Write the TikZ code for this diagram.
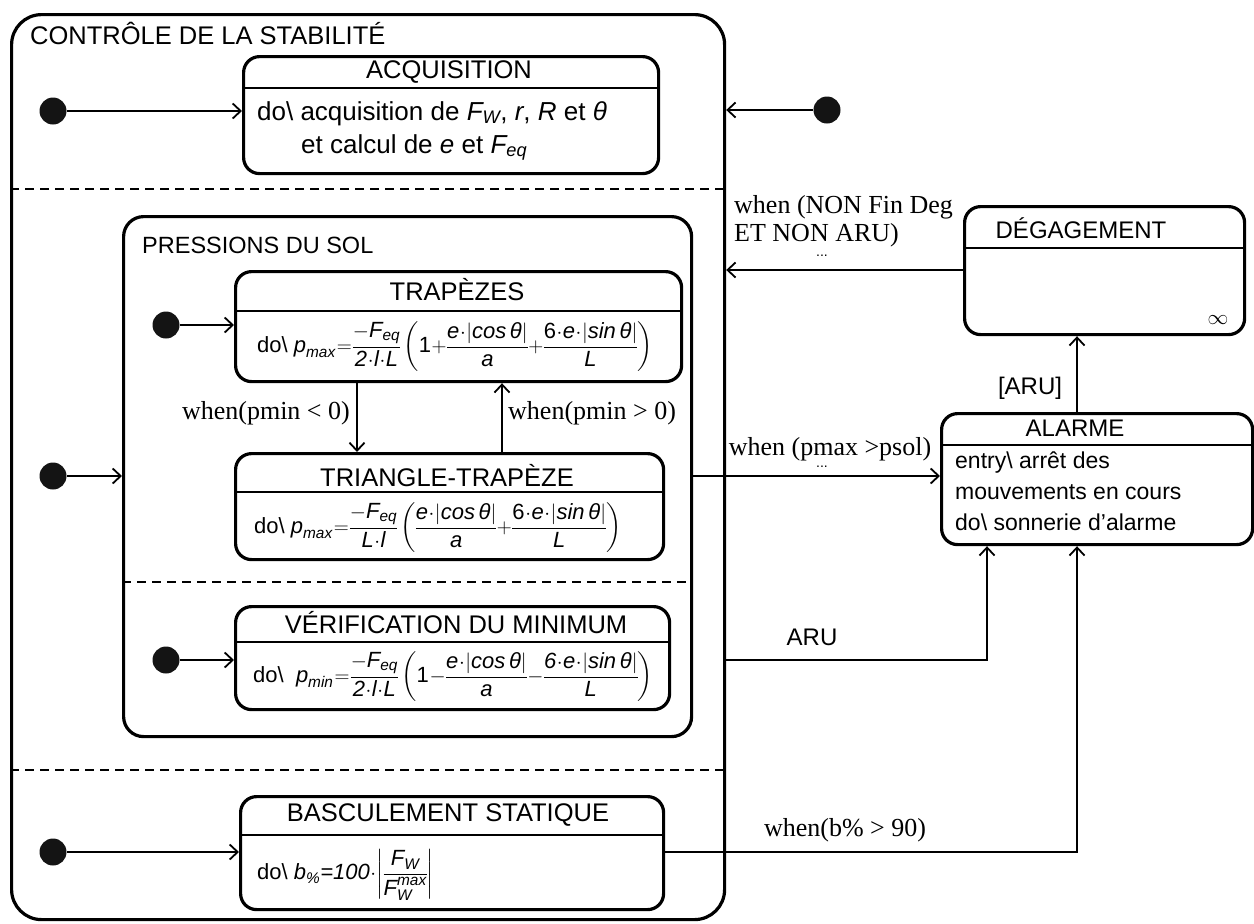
\documentclass[tikz,border=0pt]{standalone}
\usepackage{fontspec}
\usepackage{amsmath}
\setmainfont{Liberation Sans}
\newfontfamily\lblfont{Liberation Serif}
\usetikzlibrary{arrows.meta}
% italic and upright text-font pieces inside formulas
\newcommand{\tv}[1]{\text{\itshape #1}}
\newcommand{\tu}[1]{\text{#1}}
\newcommand{\bsl}{\textbackslash}
\begin{document}
\begin{tikzpicture}[x=1pt,y=-1pt,
  frame/.style={draw, line width=3.2pt, rounded corners=30pt, inner sep=0, anchor=north west},
  region/.style={draw, line width=3.2pt, rounded corners=20pt, inner sep=0, anchor=north west},
  stbox/.style={draw, line width=3.2pt, rounded corners=16pt, inner sep=0, anchor=north west},
  hline/.style={line width=2.6pt},
  hdr/.style={font=\fontsize{25.5}{28}\selectfont, inner sep=0},
  small hdr/.style={font=\fontsize{24}{28}\selectfont, inner sep=0},
  body/.style={font=\fontsize{23}{31}\selectfont, inner sep=0, align=left},
  formula/.style={font=\fontsize{22}{27}\selectfont, inner sep=0, anchor=west,
    execute at begin node={\thickmuskip=1mu\medmuskip=0.5mu\nulldelimiterspace=0pt}},
  lbl/.style={font=\lblfont\fontsize{26}{28}\selectfont, inner sep=0},
  dots/.style={font=\fontsize{14}{16}\selectfont, inner sep=0},
  conn/.style={line width=1.8pt, -{Straight Barb[length=8pt,width=15pt,line width=1.8pt]}},
  init/.style={circle, fill=black!92, minimum size=27pt, inner sep=0},
  sep/.style={line width=1.8pt, dash pattern=on 9pt off 6pt}]
\useasboundingbox (0,0) rectangle (1254,924);

% ---- outer composite state ----
\node[frame, minimum width=713pt, minimum height=905pt] (frame) at (10,13) {};
\node[hdr, anchor=west] (frameT) at (30,33) {CONTRÔLE DE LA STABILITÉ};

% region separators
\draw[sep] (frame.west |- 0,189) -- (frame.east |- 0,189);
\draw[sep] (frame.west |- 0,770) -- (frame.east |- 0,770);

% ---- ACQUISITION ----
\node[stbox, minimum width=415pt, minimum height=117pt] (acq) at (242,55) {};
\draw[hline] (acq.west |- 0,88) -- (acq.east |- 0,88);
\node[hdr] (acqT) at (449,72) {ACQUISITION};
\node[body, anchor=north west, font=\fontsize{26}{33}\selectfont] (acqB) at (257,101)
  {do\bsl\ acquisition de $\tv{F}_{\tv{W}}$, \textit{r}, \textit{R} et \textit{θ}\\
   \hspace*{44pt}et calcul de \textit{e} et $\tv{F}_{\tv{eq}}$};
\node[init] (i1) at (53,111) {};
\node[init] (i2) at (827,110) {};
\draw[conn] (i1) -- (i1 -| acq.west);
\draw[conn] (i2) -- (i2 -| frame.east);

% ---- PRESSIONS DU SOL ----
\node[region, minimum width=568pt, minimum height=520pt] (press) at (122,215) {};
\node[small hdr, anchor=west, font=\fontsize{23.5}{28}\selectfont] (pressT) at (142,245) {PRESSIONS DU SOL};
\draw[sep] (press.west |- 0,582) -- (press.east |- 0,582);

% TRAPEZES
\node[stbox, minimum width=446pt, minimum height=110pt] (trap) at (234,270) {};
\draw[hline] (trap.west |- 0,311) -- (trap.east |- 0,311);
\node[hdr] (trapT) at (457,290) {TRAPÈZES};
\node[formula] (trapB) at (257,347)
  {do\bsl\ $\displaystyle \tv{p}_{\tv{max}}=\frac{-\tv{F}_{\tv{eq}}}{\tv{2}\cdot\tv{l}\cdot\tv{L}}
   \left(\tu{1}+\frac{\tv{e}\cdot|\tv{cos\,θ}|}{\tv{a}}+\frac{\tu{6}\cdot\tv{e}\cdot|\tv{sin\,θ}|}{\tv{L}}\right)$};

% TRIANGLE-TRAPEZE
\node[stbox, minimum width=428pt, minimum height=106pt] (tri) at (234,452) {};
\draw[hline] (tri.west |- 0,492) -- (tri.east |- 0,492);
\node[hdr] (triT) at (447,476) {TRIANGLE-TRAPÈZE};
\node[formula] (triB) at (254,528)
  {do\bsl\ $\displaystyle \tv{p}_{\tv{max}}=\frac{-\tv{F}_{\tv{eq}}}{\tv{L}\cdot\tv{l}}
   \left(\frac{\tv{e}\cdot|\tv{cos\,θ}|}{\tv{a}}+\frac{\tu{6}\cdot\tv{e}\cdot|\tv{sin\,θ}|}{\tv{L}}\right)$};

% VERIFICATION DU MINIMUM
\node[stbox, minimum width=434pt, minimum height=103pt] (verif) at (234,605) {};
\draw[hline] (verif.west |- 0,642) -- (verif.east |- 0,642);
\node[hdr] (verifT) at (456,623) {VÉRIFICATION DU MINIMUM};
\node[formula] (verifB) at (253,677)
  {do\bsl\ \ $\displaystyle \tv{p}_{\tv{min}}=\frac{-\tv{F}_{\tv{eq}}}{\tv{2}\cdot\tv{l}\cdot\tv{L}}
   \left(\tu{1}-\frac{\tv{e}\cdot|\tv{cos\,θ}|}{\tv{a}}-\frac{\tv{6}\cdot\tv{e}\cdot|\tv{sin\,θ}|}{\tv{L}}\right)$};

\node[init] (i3) at (166,325) {};
\node[init] (i4) at (53,476) {};
\node[init] (i5) at (166,660) {};
\draw[conn] (i3) -- (i3 -| trap.west);
\draw[conn] (i4) -- (i4 -| press.west);
\draw[conn] (i5) -- (i5 -| verif.west);

\draw[conn] (357,0 |- trap.south) -- (357,0 |- tri.north);
\draw[conn] (502,0 |- tri.north) -- (502,0 |- trap.south);
\node[lbl, anchor=east] (lblA) at (350,413) {when(pmin < 0)};
\node[lbl, anchor=west] (lblB) at (508,413) {when(pmin > 0)};

% ---- BASCULEMENT STATIQUE ----
\node[stbox, minimum width=423pt, minimum height=113pt] (basc) at (239,795) {};
\draw[hline] (basc.west |- 0,835) -- (basc.east |- 0,835);
\node[hdr] (bascT) at (448,815) {BASCULEMENT STATIQUE};
\node[formula] (bascB) at (257,875)
  {do\bsl\ $\displaystyle \tv{b}_{\tv{\%}}\tv{=100}\cdot\left|\frac{\tv{F}_{\tv{W}}}{\tv{F}_{\tv{W}}^{\tv{max}}}\right|$};
\node[init] (i6) at (53,852) {};
\draw[conn] (i6) -- (i6 -| basc.west);

% ---- DEGAGEMENT ----
\node[stbox, minimum width=280pt, minimum height=128pt] (deg) at (963,205) {};
\draw[hline] (deg.west |- 0,248) -- (deg.east |- 0,248);
\node[small hdr] (degT) at (1081,228) {DÉGAGEMENT};
\node[inner sep=0, font=\fontsize{22}{22}\selectfont] (degInf) at (1218,320) {$\infty$};

% ---- ALARME ----
\node[stbox, minimum width=311pt, minimum height=131pt] (alarm) at (940,412) {};
\draw[hline] (alarm.west |- 0,445) -- (alarm.east |- 0,445);
\node[small hdr] (alarmT) at (1075,428) {ALARME};
\node[body, anchor=north west] (alarmB) at (955,452)
  {entry\bsl\ arrêt des\\ mouvements en cours\\ do\bsl\ sonnerie d’alarme};

% ---- transitions outside the composite state ----
\draw[conn] (deg.west |- 0,270) -- (frame.east |- 0,270);
\node[lbl, anchor=west, align=left] (lblDeg) at (734,221) {when (NON Fin Deg\\ET NON ARU)};
\node[dots] (dotsDeg) at (822,256) {...};

\draw[conn] (1077,0 |- alarm.north) -- (1077,0 |- deg.south);
\node[small hdr] (lblAru1) at (1030,388) {[ARU]};

\draw[conn] (press.east |- i4) -- (alarm.west |- i4);
\node[lbl] (lblPmax) at (830,449) {when (pmax >psol)};
\node[dots] (dotsPmax) at (822,467) {...};

\draw[conn] (frame.east |- 0,660) -- (987,660) -- (987,0 |- alarm.south);
\node[small hdr] (lblAru2) at (812,637) {ARU};

\draw[conn] (basc.east |- i6) -- (1077,852) -- (1077,0 |- alarm.south);
\node[lbl] (lblB90) at (845,830) {when(b\% > 90)};
\end{tikzpicture}
\end{document}
